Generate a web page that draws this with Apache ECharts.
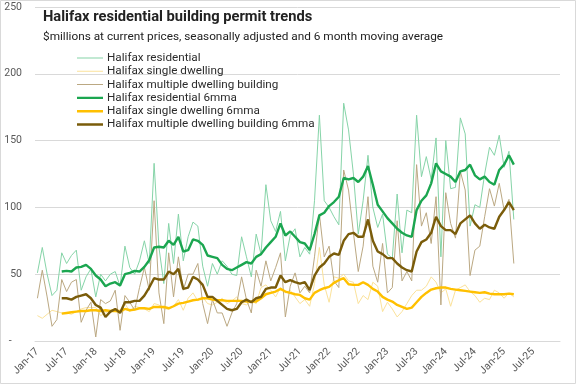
<!DOCTYPE html>
<html>
<head>
<meta charset="utf-8">
<script src="https://cdn.jsdelivr.net/npm/echarts@6/dist/echarts.min.js"></script>
<style>
html,body{margin:0;padding:0;background:#fff;}
#chart{width:577px;height:385px;}
</style>
</head>
<body>
<div id="chart"></div>
<script>
const monthNames = ['Jan','Feb','Mar','Apr','May','Jun','Jul','Aug','Sep','Oct','Nov','Dec'];
const years = ['17','18','19','20','21','22','23','24','25'];
const categories = [];
years.forEach(y => monthNames.forEach(m => categories.push(m + '-' + y)));

const yTicks = [0, 50, 100, 150, 200, 250];

const residential = [51,70,50,34,38,66,58,64,68,38,48,54,33,50,45,50,52,41,71,55,50,60,75,58,133,70,43,88,58,95,60,78,89,86,56,41,58,50,60,56,50,49,78,63,48,80,65,117,90,82,97,60,79,84,63,70,65,105,169,105,100,93,87,178,158,125,80,105,139,100,85,95,65,62,110,66,98,96,169,123,138,121,152,63,150,114,115,167,155,86,102,100,125,145,139,154,130,142,91];

const singleDwelling = [19,17,20,23,22,21,21,20,22,24,25,25,25,19,21,23,24,23,28,22,26,25,24,22,28,27,24,24,26,31,23,32,36,30,33,28,27,29,32,28,30,33,28,27,30,28,40,42,38,33,40,36,38,33,28,31,26,43,70,42,29,48,47,50,45,44,28,34,31,44,41,22,29,24,18,22,28,34,38,38,41,48,44,36,39,26,38,40,42,37,34,29,32,31,38,36,32,36,33];

const multipleDwelling = [32,53,33,11,16,46,37,44,46,14,23,29,3,31,28,30,38,8,34,29,23,40,55,38,105,36,13,66,33,63,38,50,50,58,28,13,31,21,21,11,21,28,48,31,21,53,41,60,45,55,66,18,41,51,36,41,36,63,95,63,71,45,40,128,113,81,52,71,108,56,44,73,36,40,90,45,52,45,132,86,96,73,108,27,111,88,77,127,113,49,68,71,93,114,101,118,98,106,58];

const residential6mma = [null,null,null,null,null,52,52.5,52,55,55.5,57,54,49,46,41,43,44,41.5,50,51,52.5,52,55.5,60.5,70,70.5,70,75,72,78,67,68,76,75,72,64,63,62,57,54,53,55,57,59,58,63,65,70,74,78,88,79,82,78,74,73,68,80,94,96,101,104,108,122,121,122,119,123,131,117,102,97,92,88,84,81,79,78,98,105,109,118,133,127,125,123,119,127,128,132,124,121,123,119,117,128,132,139,132];

const single6mma = [null,null,null,null,null,20.5,21,21.5,22,22.5,22.5,23,23,22.5,23,22.5,22.5,22,24,23,23.5,24.5,24.5,24,25.5,25.5,25.5,24.5,26,28,28.5,29.5,30.5,31,32,32,31,30.5,30.5,30,30,30,30,29.5,29.5,29.5,32,35,36,37,39,37,36,35,34.5,32,31,36,38,39.5,40.5,43.5,45.5,47,42.5,42,42,44,42,39,37,33,31,29.5,27,25.5,24,25,29,33,36,38.5,39.5,40,40,39,38.5,38,37.5,37,36.5,36,36.5,35.5,35,35,35,35.5,35];

const multiple6mma = [null,null,null,null,null,32,32,31,33,34,35,32,27,25,18,22,24,21,29,29,30,30,34,40,47,46,46,52,50,54,39,40,48,46,42,33,33,30,27,24,23,24,29,31,29,32,33,39,40,40,49,44,45.5,44,43,44,38,49,55,58,63,65.5,64.5,75,80,81,78,78,91,75,67,65,62,62,58,55,53,52,67,74,76,81,93,86,83,83,80,88,91,94,88,84,87,85,84,93,98,104,98];

const names = ['Halifax residential','Halifax single dwelling','Halifax multiple dwelling building','Halifax residential 6mma','Halifax single dwelling 6mma','Halifax multiple dwelling building 6mma'];
const colors = ['#86d4a8','#fbe29a','#bba882','#1ba650','#ffc000','#7a5c0a'];
const widths = [1,1,1,2.4,2.4,2.4];
const datasets = [residential, singleDwelling, multipleDwelling, residential6mma, single6mma, multiple6mma];

// legend icons: a horizontal bar centred in a 26x12 box
const thinIcon = 'path://M0,0L0,0ZM0,5.5h26v1h-26ZM0,12L0,12Z';
const thickIcon = 'path://M0,0L0,0ZM0,4.8h26v2.4h-26ZM0,12L0,12Z';

const font = 'Roboto, "Liberation Sans", sans-serif';
const chart = echarts.init(document.getElementById('chart'), null, {renderer:'canvas'});
chart.setOption({
  animation: false,
  backgroundColor: '#fff',
  graphic: [{type:'rect', shape:{x:0.5,y:0.5,width:575,height:383}, style:{fill:'none', stroke:'#d9d9d9', lineWidth:1}, silent:true, z:-1}],
  title: [
    {text:'Halifax residential building permit trends', left:43, top:10, padding:0,
     textStyle:{fontFamily:font, fontSize:14.7, fontWeight:'bold', color:'#222'}},
    {text:'$millions at current prices, seasonally adjusted and 6 month moving average', left:43, top:31, padding:0,
     textStyle:{fontFamily:font, fontSize:11.8, fontWeight:'normal', color:'#222'}}
  ],
  legend: {
    orient:'vertical', left:77, top:52, padding:0, itemGap:1.3,
    itemWidth:26, itemHeight:12,
    data: names.map((n, i) => ({name:n, icon: widths[i] > 1 ? thickIcon : thinIcon})),
    textStyle:{fontFamily:font, fontSize:11.7, color:'#2b2b2b', padding:[0,0,0,-1]}
  },
  grid: {left:35, right:17, top:7, bottom:44, containLabel:false},
  xAxis: {
    type:'category', data:categories, boundaryGap:true,
    axisLine:{lineStyle:{color:'#d9d9d9'}},
    axisTick:{show:false},
    axisLabel:{interval:5, rotate:45, color:'#595959', fontFamily:font, fontSize:10.5, margin:9}
  },
  yAxis: {
    type:'value', min:yTicks[0], max:yTicks[yTicks.length-1], interval:50,
    axisLine:{show:false}, axisTick:{show:false},
    axisLabel:{color:'#595959', fontFamily:font, fontSize:10.5, margin:13,
      formatter: v => v === 0 ? '-    ' : String(v)},
    splitLine:{lineStyle:{color:'#d9d9d9', width:1}}
  },
  series: datasets.map((d, i) => ({
    name: names[i], type:'line', data:d, symbol:'none', showSymbol:false,
    color: colors[i], itemStyle:{color:colors[i]}, lineStyle:{color:colors[i], width:widths[i]},
    z: 2 + i, silent:true
  }))
});
</script>
</body>
</html>
